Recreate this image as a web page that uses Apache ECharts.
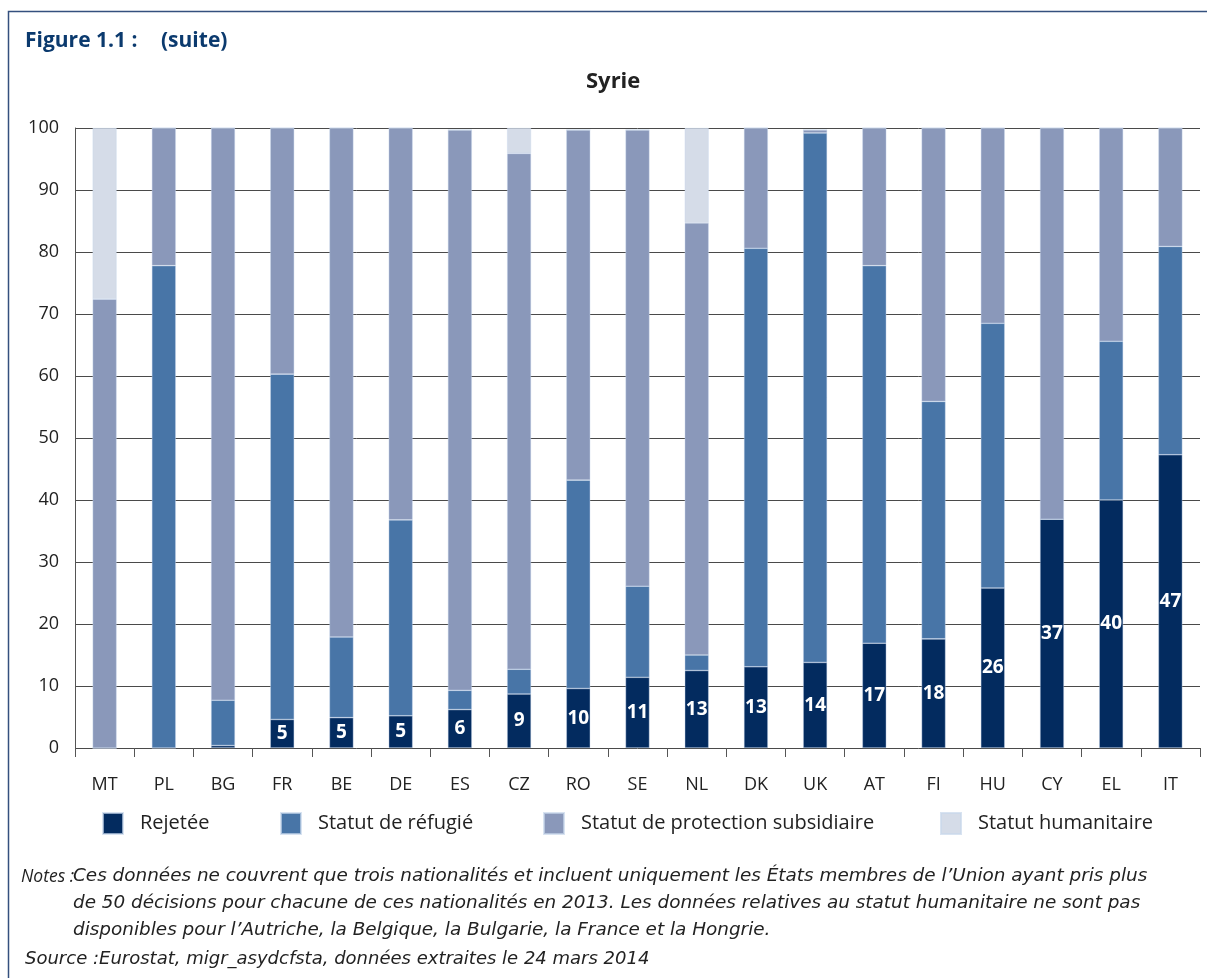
<!DOCTYPE html>
<html><head><meta charset="utf-8">
<script src="https://cdn.jsdelivr.net/npm/echarts@6/dist/echarts.min.js"></script>
<style>html,body{margin:0;padding:0;background:#fff}#c{width:1207px;height:978px}</style>
</head><body><div id="c"></div>
<script>
const categories = ['MT','PL','BG','FR','BE','DE','ES','CZ','RO','SE','NL','DK','UK','AT','FI','HU','CY','EL','IT'];
const rejetee =     [0,   0,    0.4, 4.6, 4.9, 5.2, 6.2, 8.7, 9.6, 11.4, 12.5, 13.1, 13.8, 16.9, 17.6, 25.8, 36.9, 40.0, 47.3];
const refugie =     [0,   77.8, 7.3, 55.7,13.0,31.6, 3.1, 4.0, 33.6,14.7, 2.5, 67.5, 85.4, 60.9, 38.3, 42.7, 0,    25.6, 33.6];
const subsidiaire = [72.4,22.2, 92.3,39.7,82.1,63.2, 90.4,83.2,56.5,73.6, 69.7, 19.4, 0.5,  22.2, 44.1, 31.5, 63.1, 34.4, 19.1];
const humanitaire = [27.6,0,    0,   0,   0,   0,   0,   4.1, 0,   0,    15.3, 0,    0,    0,    0,    0,    0,    0,    0];
const seriesNames = ['Rejetée','Statut de réfugié','Statut de protection subsidiaire','Statut humanitaire'];
const yTicks = [0,10,20,30,40,50,60,70,80,90,100];
const notesLines = [
  'Ces données ne couvrent que trois nationalités et incluent uniquement les États membres de l’Union ayant pris plus',
  'de 50 décisions pour chacune de ces nationalités en 2013. Les données relatives au statut humanitaire ne sont pas',
  'disponibles pour l’Autriche, la Belgique, la Bulgarie, la France et la Hongrie.'
];
const sourceText = 'Source :Eurostat, migr_asydcfsta, données extraites le 24 mars 2014';

const colors = ['#032b5f','#4875a7','#8a98ba','#d5dce8'];
const FONT = '"Open Sans", "Noto Sans", sans-serif';
const NFONT = '"DejaVu Sans", sans-serif';
const chart = echarts.init(document.getElementById('c'), null, {renderer:'canvas'});
const dataSets = [rejetee, refugie, subsidiaire, humanitaire];
const legendLefts = [102, 280, 543, 940];

const option = {
  animation:false,
  textStyle:{fontFamily:FONT},
  grid:{left:75, right:7, top:128, bottom:230, containLabel:false},
  xAxis:{
    type:'category', data:categories,
    axisLine:{show:false},
    axisTick:{show:true, length:9, lineStyle:{color:'#555'}},
    axisLabel:{color:'#222', fontSize:18, margin:28, fontFamily:FONT}
  },
  yAxis:{
    type:'value', min:0, max:100, interval:10,
    axisLine:{show:true, lineStyle:{color:'#555'}},
    axisTick:{show:false},
    splitLine:{lineStyle:{color:'#4a4a4a', width:1}},
    axisLabel:{color:'#222', fontSize:18, margin:16, fontFamily:FONT,
      formatter:v=> yTicks.includes(v) ? String(v) : ''}
  },
  legend: seriesNames.map((n,i)=>({
    data:[n], left:legendLefts[i], top:812, padding:0, icon:'rect', itemWidth:20, itemHeight:21, itemGap:0,
    textStyle:{color:'#222', fontSize:20, fontFamily:FONT, padding:[0,0,0,12]}
  })),
  series: seriesNames.map((n,i)=>({
    name:n, type:'bar', stack:'t', barWidth:24,
    data:dataSets[i],
    itemStyle:{color:colors[i], borderColor:'rgba(200,215,235,0.7)', borderWidth:0.6},
    label: i===0 ? {show:true, position:'inside', color:'#fff', fontWeight:'bold', fontSize:19, fontFamily:FONT,
      formatter:p=> p.value>=1 ? String(Math.round(p.value)) : ''} : {show:false}
  })),
  graphic:[
    {type:'rect', shape:{x:8.5,y:11.5,width:1400,height:1100}, style:{fill:'none', stroke:'#34507e', lineWidth:1.5}, silent:true},
    {type:'text', left:25, top:31, style:{text:'Figure 1.1 :', font:'bold 21px '+FONT, fill:'#0b3a6e'}},
    {type:'text', left:161, top:31, style:{text:'(suite)', font:'bold 21px '+FONT, fill:'#0b3a6e'}},
    {type:'text', left:586, top:71, style:{text:'Syrie', font:'bold 22px '+FONT, fill:'#222'}},
    {type:'text', left:21, top:868, style:{text:'Notes :', font:'italic 17.5px '+FONT, fill:'#222'}},
    {type:'text', left:73, top:867, style:{text:notesLines[0], font:'oblique 18.4px '+NFONT, fill:'#222'}},
    {type:'text', left:73, top:894, style:{text:notesLines[1], font:'oblique 18.4px '+NFONT, fill:'#222'}},
    {type:'text', left:73, top:921, style:{text:notesLines[2], font:'oblique 18.4px '+NFONT, fill:'#222'}},
    {type:'text', left:25, top:950, style:{text:sourceText, font:'oblique 18px '+NFONT, fill:'#222'}}
  ]
};
chart.setOption(option);
</script></body></html>
